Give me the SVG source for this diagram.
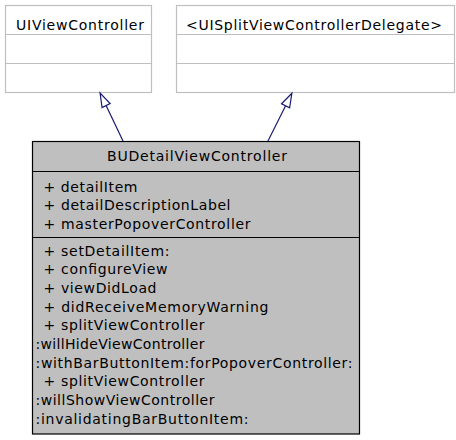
<svg xmlns="http://www.w3.org/2000/svg" width="456" height="440" viewBox="0 0 456 440">
<style>
text{font-family:"DejaVu Sans",sans-serif;font-size:14px;fill:#000}
.ext{fill:#fff;stroke:#bfbfbf;stroke-width:1.2}
.extl{stroke:#bfbfbf;stroke-width:1.2}
.main{fill:#bfbfbf;stroke:#000;stroke-width:1.2}
.mainl{stroke:#000;stroke-width:1.2}
.edge{fill:none;stroke:#191970;stroke-width:1.2}
.c{text-anchor:middle}
</style>
<defs>
<marker id="inh" markerUnits="userSpaceOnUse" markerWidth="20" markerHeight="14" refX="0" refY="7" orient="auto" overflow="visible">
<path d="M0,2.5 L14,7 L0,11.5 Z" fill="#fff" stroke="#191970" stroke-width="1.2"/>
</marker>
</defs>
<g id="UIViewController">
<rect class="ext" x="5.5" y="5.5" width="146" height="87"/>
<line class="extl" x1="5.5" y1="34.5" x2="151.5" y2="34.5"/>
<line class="extl" x1="5.5" y1="63.5" x2="151.5" y2="63.5"/>
<text class="c" x="80" y="30" textLength="128" lengthAdjust="spacing">UIViewController</text>
</g>
<g id="UISplitViewControllerDelegate">
<rect class="ext" x="176.5" y="5.5" width="278" height="87"/>
<line class="extl" x1="176.5" y1="34.5" x2="454.5" y2="34.5"/>
<line class="extl" x1="176.5" y1="63.5" x2="454.5" y2="63.5"/>
<text class="c" x="314" y="30" textLength="256" lengthAdjust="spacing">&lt;UISplitViewControllerDelegate&gt;</text>
</g>
<g id="BUDetailViewController">
<rect class="main" x="32.5" y="141.5" width="327" height="292.5"/>
<line class="mainl" x1="32.5" y1="171.5" x2="359.5" y2="171.5"/>
<line class="mainl" x1="32.5" y1="237.5" x2="359.5" y2="237.5"/>
<text class="c" x="197" y="161" textLength="180" lengthAdjust="spacing">BUDetailViewController</text>
<text x="43.5" y="191.5" textLength="94" lengthAdjust="spacing">+ detailItem</text>
<text x="43.5" y="210" textLength="187" lengthAdjust="spacing">+ detailDescriptionLabel</text>
<text x="43.5" y="228.5" textLength="207" lengthAdjust="spacing">+ masterPopoverController</text>
<text x="43.5" y="255.5" textLength="126" lengthAdjust="spacing">+ setDetailItem:</text>
<text x="43.5" y="274.2" textLength="124" lengthAdjust="spacing">+ configureView</text>
<text x="43.5" y="292.8" textLength="113" lengthAdjust="spacing">+ viewDidLoad</text>
<text x="43.5" y="311.8" textLength="225" lengthAdjust="spacing">+ didReceiveMemoryWarning</text>
<text x="43.5" y="330.2" textLength="161" lengthAdjust="spacing">+ splitViewController</text>
<text x="35.5" y="348.8" textLength="169" lengthAdjust="spacing">:willHideViewController</text>
<text x="35.5" y="367.5" textLength="317" lengthAdjust="spacing">:withBarButtonItem:forPopoverController:</text>
<text x="43.5" y="386.2" textLength="161" lengthAdjust="spacing">+ splitViewController</text>
<text x="35.5" y="404.8" textLength="179" lengthAdjust="spacing">:willShowViewController</text>
<text x="35.5" y="423.5" textLength="213" lengthAdjust="spacing">:invalidatingBarButtonItem:</text>
</g>
<g id="connectors">
<path class="edge" d="M123,141 L106.1,105.6" marker-end="url(#inh)"/>
<path class="edge" d="M268,141 L285.6,105.8" marker-end="url(#inh)"/>
</g>
</svg>
